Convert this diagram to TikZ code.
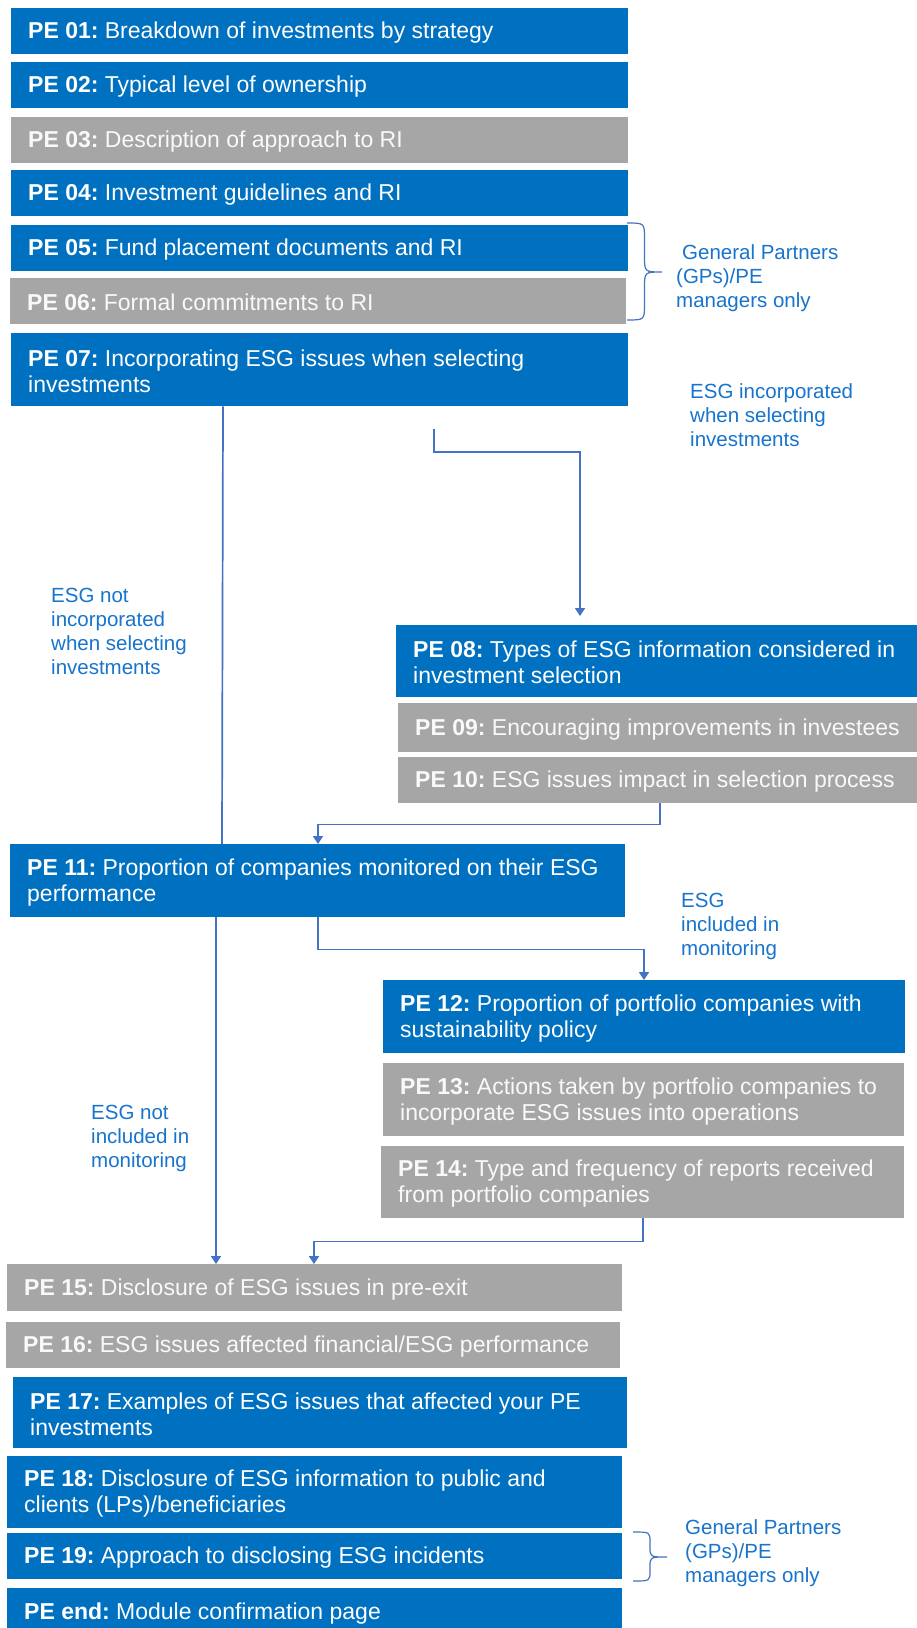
\documentclass[tikz,border=0pt]{standalone}
\usepackage{fontspec}
\setmainfont{Liberation Sans}
\usetikzlibrary{arrows.meta,calc}
\definecolor{pblue}{HTML}{0070C0}
\definecolor{pgray}{HTML}{A6A6A6}
\definecolor{pline}{HTML}{4472C4}
\definecolor{plabel}{HTML}{1874CD}
\newcommand\boxfont{\fontsize{23}{26}\selectfont\frenchspacing}
\newcommand\lblfont{\fontsize{20.5}{24}\selectfont\frenchspacing}
\tikzset{
  qbox/.style={anchor=north west, inner sep=0pt},
  bluebox/.style={qbox, fill=pblue},
  graybox/.style={qbox, fill=pgray},
  qtext/.style={anchor=west, inner sep=0pt, align=left, font=\boxfont},
  bluetext/.style={qtext, text=white},
  graytext/.style={qtext, text=white!95!gray},
  lbl/.style={align=left, text=plabel, font=\lblfont, anchor=west, inner sep=0pt},
  conn/.style={draw=pline, line width=1.7pt},
  arr/.style={conn, -{Triangle[length=8pt,width=10pt]}},
  bracestyle/.style={draw=pline, line width=1.2pt}
}
% #1 colour kind, #2 name, #3 left, #4 top, #5 width, #6 height, #7 text
\newcommand\pebox[7]{%
  \node[#1box, minimum width=#5pt, minimum height=#6pt] (#2) at (#3,#4) {};
  \node[#1text] (#2t) at ([xshift=17pt,yshift=-1.5pt]#2.west) {#7};}
\begin{document}
\begin{tikzpicture}[x=1pt,y=-1pt]
\useasboundingbox (0,0) rectangle (917,1628);
\fill[white] (0,0) rectangle (917,1628);
\pebox{blue}{b01}{11}{8}{617}{46}{\textbf{PE 01:} Breakdown of investments by strategy}
\pebox{blue}{b02}{11}{62}{617}{46}{\textbf{PE 02:} Typical level of ownership}
\pebox{gray}{b03}{11}{117}{617}{46}{\textbf{PE 03:} Description of approach to RI}
\pebox{blue}{b04}{11}{170}{617}{46}{\textbf{PE 04:} Investment guidelines and RI}
\pebox{blue}{b05}{11}{225}{617}{46}{\textbf{PE 05:} Fund placement documents and RI}
\pebox{gray}{b06}{10}{278}{616}{46}{\textbf{PE 06:} Formal commitments to RI}
\pebox{blue}{b07}{11}{333}{617}{73}{\textbf{PE 07:} Incorporating ESG issues when selecting\\investments}
\pebox{blue}{b08}{396}{625}{521}{72}{\textbf{PE 08:} Types of ESG information considered in\\investment selection}
\pebox{gray}{b09}{398}{703}{519}{49}{\textbf{PE 09:} Encouraging improvements in investees}
\pebox{gray}{b10}{398}{757}{519}{46}{\textbf{PE 10:} ESG issues impact in selection process}
\pebox{blue}{b11}{10}{844}{615}{73}{\textbf{PE 11:} Proportion of companies monitored on their ESG\\performance}
\pebox{blue}{b12}{383}{980}{522}{73}{\textbf{PE 12:} Proportion of portfolio companies with\\sustainability policy}
\pebox{gray}{b13}{383}{1063}{521}{73}{\textbf{PE 13:} Actions taken by portfolio companies to\\incorporate ESG issues into operations}
\pebox{gray}{b14}{381}{1146}{523}{72}{\textbf{PE 14:} Type and frequency of reports received\\from portfolio companies}
\pebox{gray}{b15}{7}{1264}{615}{47}{\textbf{PE 15:} Disclosure of ESG issues in pre-exit}
\pebox{gray}{b16}{6}{1322}{614}{46}{\textbf{PE 16:} ESG issues affected financial/ESG performance}
\pebox{blue}{b17}{13}{1377}{614}{71}{\textbf{PE 17:} Examples of ESG issues that affected your PE\\investments}
\pebox{blue}{b18}{7}{1456}{615}{72}{\textbf{PE 18:} Disclosure of ESG information to public and\\clients (LPs)/beneficiaries}
\pebox{blue}{b19}{7}{1533}{615}{46}{\textbf{PE 19:} Approach to disclosing ESG incidents}
\pebox{blue}{bend}{7}{1588}{615}{48}{\textbf{PE end:} Module confirmation page}
% connectors
\draw[conn] ([xshift=212pt]b07.south west) -- ([xshift=212pt]b11.north west);
\coordinate (c2s) at (434,429);
\draw[arr] (c2s) -- ++(0,23) -| ([xshift=184pt,yshift=9pt]b08.north west);
\draw[arr] ([xshift=262pt]b10.south west) -- ++(0,21) -| ([xshift=308pt]b11.north west);
\draw[arr] ([xshift=308pt]b11.south west) -- ++(0,32) -| ([xshift=261pt]b12.north west);
\draw[arr] ([xshift=206pt]b11.south west) -- ([xshift=209pt]b15.north west);
\draw[arr] ([xshift=262pt]b14.south west) -- ++(0,23) -| ([xshift=307pt]b15.north west);
% braces
\draw[bracestyle] (627,223) .. controls (644.5,223) .. (644.5,239) -- (644.5,256)
  .. controls (644.5,272) .. (662,272) .. controls (644.5,272) .. (644.5,288)
  -- (644.5,304) .. controls (644.5,320) .. (627,320);
\draw[bracestyle] (633,1532) .. controls (650,1532) .. (650,1542) -- (650,1547)
  .. controls (650,1557) .. (667,1557) .. controls (650,1557) .. (650,1567)
  -- (650,1571) .. controls (650,1581) .. (633,1581);
% labels
\node[lbl] (gp1) at (676,278) {\hspace*{6pt}General Partners\\(GPs)/PE\\managers only};
\node[lbl] (inc) at (690,415) {ESG incorporated\\when selecting\\investments};
\node[lbl] (notinc) at (51,631) {ESG not\\incorporated\\when selecting\\investments};
\node[lbl] (incl) at (681,926) {ESG\\included in\\monitoring};
\node[lbl] (notincl) at (91,1138) {ESG not\\included in\\monitoring};
\node[lbl] (gp2) at (685,1553) {General Partners\\(GPs)/PE\\managers only};
\end{tikzpicture}
\end{document}
